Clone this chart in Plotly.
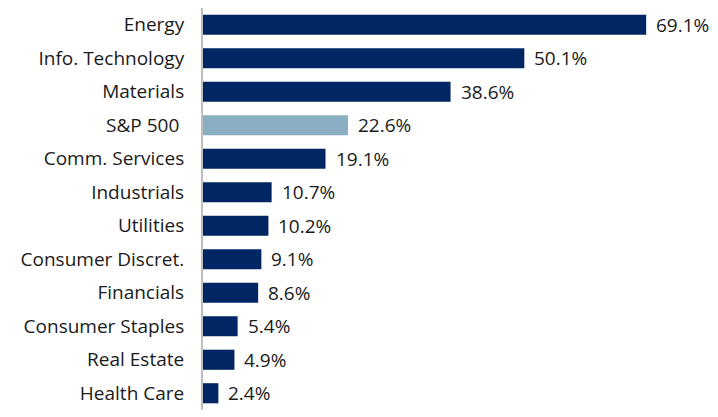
import plotly.graph_objects as go

categories = ["Energy", "Info. Technology", "Materials", "S&P 500 ", "Comm. Services",
              "Industrials", "Utilities", "Consumer Discret.", "Financials",
              "Consumer Staples", "Real Estate", "Health Care"]
values = [69.1, 50.1, 38.6, 22.6, 19.1, 10.7, 10.2, 9.1, 8.6, 5.4, 4.9, 2.4]
labels = [f"{v:.1f}%" for v in values]
navy = "#002663"
light = "#8aafc2"
colors = [light if c.strip() == "S&P 500" else navy for c in categories]

fig = go.Figure(go.Bar(
    x=values, y=categories, orientation="h",
    marker=dict(color=colors, line=dict(width=0)),
    width=0.6,
))
for c, v, t in zip(categories, values, labels):
    fig.add_annotation(x=v, y=c, text=t, showarrow=False, xanchor="left",
                       xshift=8, font=dict(size=19, color="#1a1a1a"))

fig.update_layout(
    width=718, height=417,
    margin=dict(l=203, r=0, t=8, b=7),
    plot_bgcolor="white", paper_bgcolor="white",
    font=dict(family="Open Sans", size=19, color="#1a1a1a"),
    showlegend=False,
    bargap=0.4,
)
fig.update_xaxes(range=[0, 80.3], visible=False, showgrid=False, zeroline=False)
fig.update_yaxes(autorange="reversed", showline=True, linecolor="#bfbfbf", linewidth=2,
                 ticks="", ticklabelstandoff=13, showgrid=False)
fig.write_html("out.html")
